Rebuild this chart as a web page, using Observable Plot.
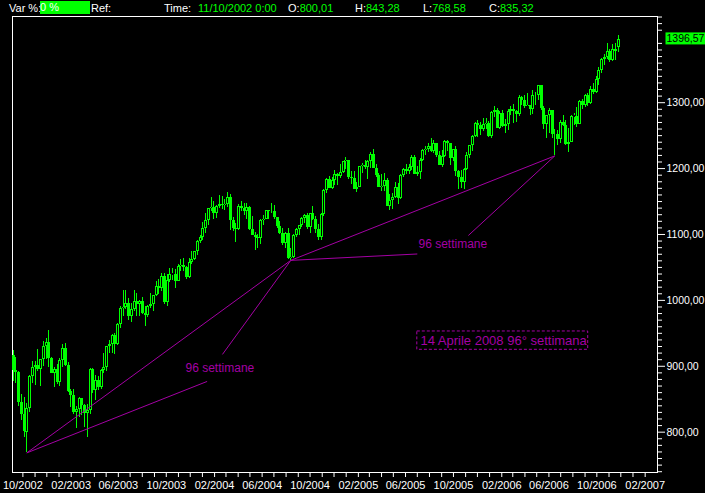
<!DOCTYPE html>
<html><head><meta charset="utf-8">
<script src="https://cdn.jsdelivr.net/npm/d3@7"></script>
<script src="https://cdn.jsdelivr.net/npm/@observablehq/plot@0.6"></script>
<style>
html,body{margin:0;padding:0;background:#000;}
#wrap{position:relative;width:705px;height:493px;overflow:hidden;background:#000;font-family:"Liberation Sans",Arial,sans-serif;}
#hdr{position:absolute;left:0;top:0;width:705px;height:16px;font-size:11px;color:#fff;}
#hdr > span{position:absolute;top:2px;white-space:nowrap;line-height:12px;}
.g{color:#00ff00;}
</style></head><body>
<div id="wrap"><div id="chart"></div>
<div id="hdr">
<span style="left:9px">Var %:</span>
<span style="left:40px;width:50px;height:13px;background:#00ff00;color:#fff;line-height:13px;top:1px">0 %</span>
<span style="left:91px">Ref:</span>
<span style="left:164px">Time:</span>
<span class="g" style="left:198px">11/10/2002 0:00</span>
<span style="left:288px">O:<span class="g">800,01</span></span>
<span style="left:355px">H:<span class="g">843,28</span></span>
<span style="left:423px">L:<span class="g">768,58</span></span>
<span style="left:489px">C:<span class="g">835,32</span></span>
</div></div>
<script>
// Weekly S&P 500 bars, first bar week ending 2002-09-06
const weekStart = "2002-09-06";
const open = [
916.07,893.92,889.81,845.39,827.37,800.01,835.32,884.39,897.65,900.96,
894.74,909.83,930.55,936.31,912.23,889.48,895.76,875.40,908.59,927.57,
901.78,861.40,855.70,829.69,834.89,851.17,841.15,828.89,833.27,895.79,
863.50,878.85,868.30,893.58,898.81,930.08,933.41,946.67,933.22,963.59,
987.76,988.61,995.69,976.22,985.70,998.14,993.32,998.68,980.15,977.59,
990.67,993.06,1008.01,1021.39,1018.63,1036.30,996.85,1029.85,1038.73,1039.32,
1028.91,1050.71,1053.21,1050.35,1035.28,1058.20,1061.50,1074.14,1088.66,1095.89,
1108.48,1121.86,1139.83,1141.55,1131.13,1142.76,1145.81,1144.11,1144.94,1156.86,
1120.57,1109.78,1108.06,1141.81,1139.32,1134.61,1140.60,1107.30,1098.70,1095.70,
1093.56,1120.68,1122.50,1136.47,1135.02,1134.43,1125.38,1112.81,1101.39,1086.20,
1101.72,1063.97,1064.80,1098.35,1107.77,1113.63,1123.92,1128.55,1110.11,1131.50,
1122.14,1108.20,1095.74,1130.20,1166.17,1184.17,1170.34,1182.65,1191.17,1188.00,
1194.20,1210.13,1211.92,1186.19,1184.52,1167.87,1171.36,1203.03,1205.30,1201.59,
1211.37,1222.12,1200.08,1190.21,1171.42,1172.92,1181.20,1142.62,1152.12,1156.85,
1171.35,1154.05,1189.28,1198.78,1196.02,1200.93,1216.96,1191.57,1194.44,1211.86,
1227.92,1229.03,1234.18,1226.42,1237.81,1219.71,1205.10,1218.02,1241.48,1237.91,
1215.29,1228.81,1195.90,1186.57,1179.59,1198.41,1220.14,1234.72,1248.27,1268.25,
1265.08,1259.37,1267.32,1268.66,1248.29,1285.45,1287.61,1261.49,1283.72,1264.03,
1266.99,1287.24,1289.43,1287.23,1281.42,1307.25,1302.95,1294.83,1295.50,1289.12,
1311.28,1310.61,1325.76,1291.24,1267.03,1280.16,1288.22,1252.30,1251.54,1244.50,
1270.20,1265.48,1236.20,1240.29,1278.55,1279.36,1266.74,1302.30,1295.09,1311.01,
1298.92,1319.66,1314.78,1335.85,1349.59,1365.62,1368.60,1377.34,1364.30,1380.90,
1384.00];
const high = [
924.02,912.89,891.84,856.60,851.95,843.28,886.68,907.44,907.44,925.66,
910.21,937.15,941.82,954.28,912.95,897.97,902.43,911.25,932.35,935.05,
906.00,864.44,864.64,838.54,852.87,851.17,842.19,841.39,895.88,895.88,
885.89,885.23,894.80,919.74,930.56,939.61,947.51,949.39,965.38,990.14,
1015.33,1015.33,1002.41,995.00,1015.41,1010.43,1000.42,1004.59,990.41,992.50,
1011.01,1008.01,1029.34,1032.41,1040.29,1040.16,1039.31,1048.28,1048.90,1046.48,
1053.79,1061.44,1063.65,1051.96,1063.11,1074.30,1074.76,1091.03,1098.47,1118.85,
1131.92,1139.83,1155.38,1150.31,1144.40,1158.98,1157.76,1152.44,1163.23,1159.94,
1125.76,1115.97,1144.81,1150.57,1147.29,1146.56,1142.77,1127.74,1102.77,1099.35,
1122.55,1129.17,1136.80,1136.47,1146.34,1144.20,1125.38,1119.60,1108.88,1103.51,
1108.60,1079.04,1100.26,1109.68,1114.20,1125.26,1130.14,1131.54,1131.64,1142.05,
1127.01,1114.46,1131.40,1168.93,1185.30,1188.46,1186.62,1197.46,1192.41,1206.61,
1211.08,1217.33,1211.92,1195.73,1195.98,1179.42,1203.47,1208.38,1212.44,1212.00,
1224.76,1229.11,1206.83,1192.54,1191.75,1191.88,1184.48,1159.95,1162.55,1178.87,
1177.75,1191.09,1199.56,1205.64,1206.03,1219.55,1219.59,1203.40,1215.28,1229.25,
1233.16,1237.81,1245.86,1242.69,1237.81,1226.59,1227.29,1243.13,1242.60,1237.91,
1229.57,1233.34,1197.47,1197.09,1199.39,1224.70,1235.70,1249.58,1270.60,1272.89,
1270.51,1275.80,1275.53,1271.83,1286.09,1294.90,1290.78,1286.38,1287.94,1274.56,
1289.43,1294.17,1297.57,1288.23,1310.88,1310.15,1310.88,1314.07,1296.12,1318.16,
1316.04,1326.70,1326.70,1294.81,1280.54,1290.68,1288.22,1258.64,1257.96,1272.76,
1280.42,1273.31,1260.93,1280.40,1283.96,1292.20,1302.90,1305.02,1312.00,1314.67,
1324.65,1328.53,1340.28,1353.79,1366.63,1372.87,1389.45,1381.40,1388.92,1390.00,
1402.50];
const low = [
877.51,873.34,839.09,817.38,792.15,768.58,829.38,873.83,870.94,892.70,
868.91,899.37,909.92,898.73,889.17,868.01,872.80,869.45,898.53,899.16,
859.71,837.38,827.22,806.29,822.73,825.58,807.70,792.00,827.38,858.09,
847.85,862.91,865.09,889.55,891.85,919.77,919.24,918.25,931.00,957.73,
975.93,985.53,970.04,967.02,983.26,975.20,975.63,978.86,960.84,974.21,
987.29,983.32,1005.50,1009.05,1012.74,993.57,990.36,1027.21,1030.51,1018.32,
1028.06,1043.90,1044.55,1031.20,1033.80,1055.00,1060.09,1068.00,1086.14,1091.03,
1101.24,1113.63,1134.39,1122.38,1124.78,1139.00,1138.31,1136.08,1141.45,1105.87,
1104.56,1087.16,1105.30,1134.52,1129.23,1122.55,1105.50,1098.63,1076.32,1079.36,
1084.80,1113.32,1122.16,1122.93,1131.54,1123.06,1108.72,1100.56,1083.56,1078.78,
1062.23,1060.72,1063.23,1094.72,1099.18,1110.26,1116.61,1108.05,1101.29,1120.90,
1102.06,1090.19,1090.29,1127.60,1162.68,1169.19,1167.89,1173.78,1173.79,1185.48,
1192.86,1198.32,1183.27,1175.46,1167.82,1163.75,1170.55,1193.28,1198.48,1184.16,
1200.29,1199.69,1185.97,1171.08,1164.55,1164.85,1141.91,1136.15,1137.57,1154.71,
1146.18,1153.10,1185.86,1191.03,1190.51,1196.79,1190.52,1188.33,1183.55,1210.21,
1219.89,1225.01,1224.09,1222.67,1216.21,1205.07,1201.07,1216.60,1225.71,1205.35,
1211.33,1187.59,1168.20,1170.33,1168.20,1196.70,1215.05,1226.68,1246.52,1246.59,
1250.91,1256.75,1258.93,1246.80,1245.74,1277.07,1261.02,1258.60,1261.61,1253.61,
1258.34,1280.17,1268.42,1269.63,1279.60,1295.81,1291.85,1294.18,1280.74,1282.66,
1295.57,1303.46,1288.90,1259.05,1245.34,1252.93,1245.34,1219.29,1234.78,1237.59,
1263.12,1234.98,1224.54,1240.12,1265.71,1261.85,1266.67,1289.23,1292.02,1294.51,
1297.57,1311.72,1313.40,1325.71,1343.56,1356.87,1365.54,1360.98,1362.50,1364.00,
1376.00];
const close = [
893.92,889.81,845.39,827.37,800.58,835.32,884.39,897.65,900.96,894.74,
909.83,930.55,936.31,912.23,889.48,895.76,875.40,908.59,927.57,901.78,
861.40,855.70,829.69,834.89,851.17,841.15,828.89,833.27,895.79,863.50,
878.85,868.30,893.58,898.81,930.08,933.41,946.67,933.22,963.59,987.76,
988.61,995.69,976.22,985.70,998.14,993.32,998.68,980.15,977.59,990.67,
993.06,1008.01,1021.39,1018.63,1036.30,996.85,1029.85,1038.73,1039.32,1028.91,
1050.71,1053.21,1050.35,1035.28,1058.20,1061.50,1074.14,1088.66,1095.89,1108.48,
1121.86,1139.83,1141.55,1131.13,1142.76,1145.81,1144.11,1144.94,1156.86,1120.57,
1109.78,1108.06,1141.81,1139.32,1134.61,1140.60,1107.30,1098.70,1095.70,1093.56,
1120.68,1122.50,1136.47,1135.02,1134.43,1125.38,1112.81,1101.39,1086.20,1101.72,
1063.97,1064.80,1098.35,1107.77,1113.63,1123.92,1128.55,1110.11,1131.50,1122.14,
1108.20,1095.74,1130.20,1166.17,1184.17,1170.34,1182.65,1191.17,1188.00,1194.20,
1210.13,1211.92,1186.19,1184.52,1167.87,1171.36,1203.03,1205.30,1201.59,1211.37,
1222.12,1200.08,1190.21,1171.42,1172.92,1181.20,1142.62,1152.12,1156.85,1171.35,
1154.05,1189.28,1198.78,1196.02,1200.93,1216.96,1191.57,1194.44,1211.86,1227.92,
1229.03,1234.18,1226.42,1237.81,1219.71,1205.10,1218.02,1241.48,1237.91,1215.29,
1228.81,1195.90,1186.57,1179.59,1198.41,1220.14,1234.72,1248.27,1268.25,1265.08,
1259.37,1267.32,1268.66,1248.29,1285.45,1287.61,1261.49,1283.72,1264.03,1266.99,
1287.24,1289.43,1287.23,1281.42,1307.25,1302.95,1294.83,1295.50,1289.12,1311.28,
1310.61,1325.76,1291.24,1267.03,1280.16,1288.22,1252.30,1251.54,1244.50,1270.20,
1265.48,1236.20,1240.29,1278.55,1279.36,1266.74,1302.30,1295.09,1311.01,1298.92,
1319.66,1314.78,1335.85,1349.59,1365.62,1368.60,1377.34,1364.30,1380.90,1378.00,
1396.57];

// axis ticks
const yTicks = [800, 900, 1000, 1100, 1200, 1300];
const yMinorTicks = d3.range(740, 1431, 10).filter(v => v % 100 !== 0);
const monthTicks = d3.utcMonth.range(new Date("2002-10-01T00:00Z"), new Date("2007-03-01T00:00Z"));
const labelledMonths = [1, 5, 9]; // 02, 06, 10
const lastPrice = 1396.57;

// trend lines (96-week cycle)
const lineFromDate = ["2002-10-11", "2004-08-13", "2002-10-11", "2004-08-13", "2004-08-13", "2006-06-16"];
const lineFromValue = [768.58, 1060.72, 768.58, 1060.72, 1060.72, 1219.29];
const lineToDate = ["2004-08-13", "2006-06-16", "2004-01-13", "2004-02-21", "2005-07-01", "2005-11-08"];
const lineToValue = [1060.72, 1219.29, 877.0, 918.0, 1070.4, 1098.5];

// annotations
const noteText = ["96 settimane", "96 settimane"];
const noteDate = ["2003-11-19", "2005-07-04"];
const noteValue = [897.4, 1084.8];
const boxText = ["14 Aprile 2008 96° settimana"];
const boxDate = ["2005-07-01", "2006-09-09"];
const boxValue = [925.0, 952.8];
const boxTextDate = ["2005-07-09"];
const boxTextValue = [939.0];

const green = "#00ff00", magenta = "#a400a4";
const D = s => new Date(s + "T00:00Z");
const t0 = D(weekStart);
const bars = close.map((c, i) => ({date: d3.utcDay.offset(t0, 7 * i), open: open[i], high: high[i], low: low[i], close: c}));
const upBars = bars.filter(d => d.close >= d.open);
const segments = lineFromDate.map((d, i) => ({x1: D(d), y1: lineFromValue[i], x2: D(lineToDate[i]), y2: lineToValue[i]}));
const notes = noteText.map((t, i) => ({text: t, date: D(noteDate[i]), value: noteValue[i]}));
const boxes = [{x1: D(boxDate[0]), x2: D(boxDate[1]), y1: boxValue[0], y2: boxValue[1]}];
const boxLabels = boxText.map((t, i) => ({text: t, date: D(boxTextDate[i]), value: boxTextValue[i]}));
const fmtPrice = v => v.toFixed(2).replace(".", ",");

const chart = Plot.plot({
  width: 705, height: 493,
  marginLeft: 12, marginRight: 48, marginTop: 16, marginBottom: 21,
  style: {background: "#000", color: "#fff", fontFamily: "'Liberation Sans', Arial, sans-serif", fontSize: "11px"},
  x: {type: "utc", domain: [new Date("2002-09-04T14:00Z"), new Date("2007-03-04T10:00Z")], label: null},
  y: {domain: [738.8, 1430.8], label: null},
  marks: [
    Plot.axisY({anchor: "right", ticks: yMinorTicks, tickSize: 4, tickFormat: () => "", label: null}),
    Plot.axisY({anchor: "right", ticks: yTicks, tickSize: 7, tickPadding: 2, tickFormat: fmtPrice, label: null, fontSize: 10.5}),
    Plot.axisX({anchor: "bottom", ticks: monthTicks, tickSize: 5, tickPadding: 4,
      tickFormat: d => labelledMonths.includes(d.getUTCMonth()) ? d3.utcFormat("%m/%Y")(d) : "", label: null}),
    Plot.frame({stroke: "#fff"}),
    Plot.ruleX(bars, {x: "date", y1: "low", y2: "high", stroke: green, shapeRendering: "crispEdges"}),
    Plot.ruleX(bars, {x: "date", y1: d => Math.max(d.open, d.close), y2: d => Math.min(d.open, d.close), stroke: green, strokeWidth: 3, shapeRendering: "crispEdges"}),
    Plot.ruleX(upBars, {x: "date", y1: d => Math.max(d.open, d.close), y2: d => Math.min(d.open, d.close), stroke: "#000", strokeWidth: 1, insetTop: 1, insetBottom: 1, shapeRendering: "crispEdges"}),
    Plot.link(segments, {x1: "x1", y1: "y1", x2: "x2", y2: "y2", stroke: magenta}),
    Plot.text(notes, {x: "date", y: "value", text: "text", textAnchor: "start", fill: magenta, fontSize: 12}),
    Plot.rect(boxes, {x1: "x1", x2: "x2", y1: "y1", y2: "y2", fill: "none", stroke: magenta, strokeDasharray: "3,2"}),
    Plot.text(boxLabels, {x: "date", y: "value", text: "text", textAnchor: "start", fill: magenta, fontSize: 13}),
    Plot.text([lastPrice], {y: d => d, text: fmtPrice, frameAnchor: "right", dx: 9, textAnchor: "start", fill: "#000", fontSize: 10.5})
  ]
});
document.getElementById("chart").appendChild(chart);

// green background behind the last-price label
const priceStr = fmtPrice(lastPrice);
const pt = Array.from(chart.querySelectorAll("text")).find(t => t.textContent === priceStr);
if (pt) {
  const b = pt.getBBox();
  const r = document.createElementNS("http://www.w3.org/2000/svg", "rect");
  r.setAttribute("x", b.x - 1); r.setAttribute("y", b.y);
  r.setAttribute("width", b.width + 4); r.setAttribute("height", b.height);
  r.setAttribute("fill", green);
  if (pt.getAttribute("transform")) r.setAttribute("transform", pt.getAttribute("transform"));
  pt.parentNode.insertBefore(r, pt);
}
</script>
</body></html>
